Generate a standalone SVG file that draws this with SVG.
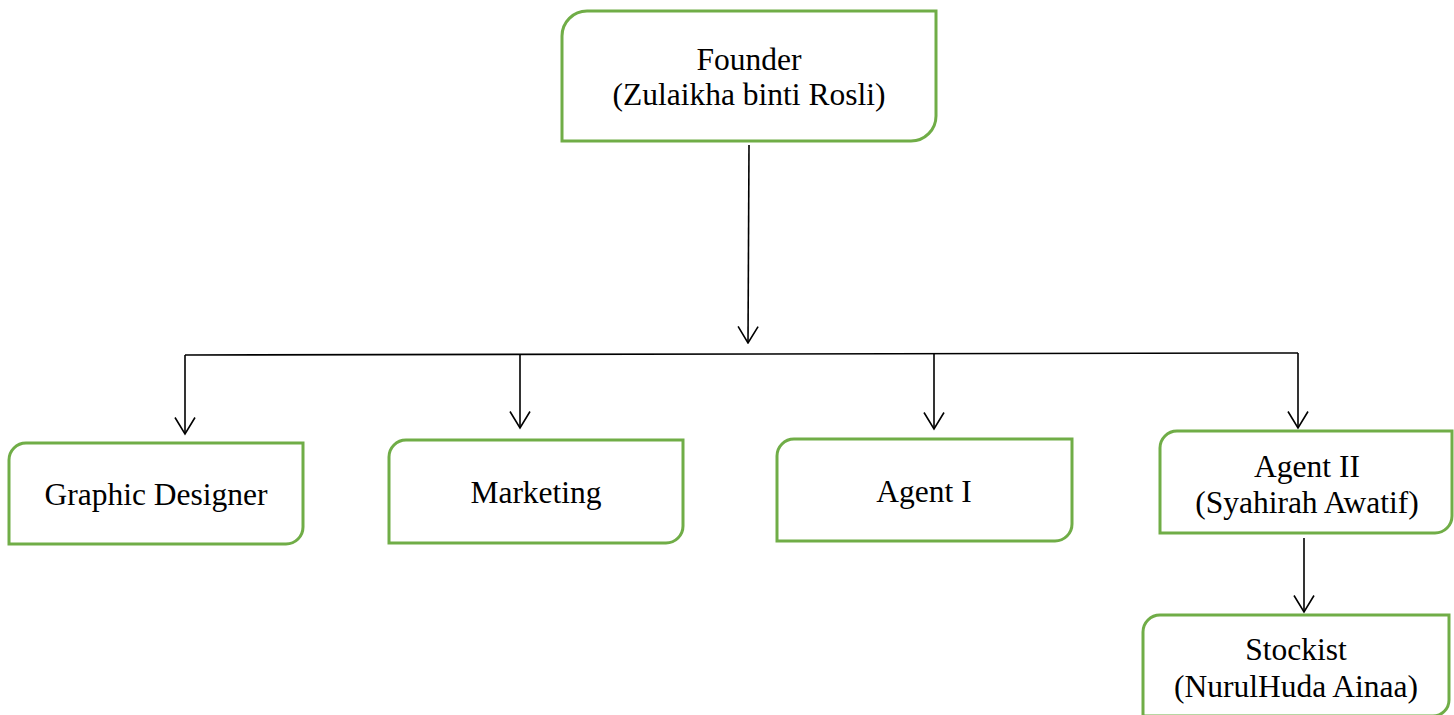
<svg xmlns="http://www.w3.org/2000/svg" width="1454" height="715" viewBox="0 0 1454 715">
<style>
.box{fill:#fff;stroke:#70AD47;stroke-width:3}
.lbl{font-family:"Liberation Serif","Times New Roman",serif;font-size:31.5px;fill:#000;text-anchor:middle}
.con{fill:none;stroke:#000;stroke-width:1.6}
</style>
<defs>
<marker id="arr" markerUnits="userSpaceOnUse" viewBox="0 0 19 22" refX="17.5" refY="11" markerWidth="19" markerHeight="22" orient="auto">
<path d="M1,1 L17.5,11 L1,21" fill="none" stroke="#000" stroke-width="1.6"/>
</marker>
</defs>
<rect width="1454" height="715" fill="#fff"/>
<g id="connectors">
<line class="con" x1="749" y1="145" x2="748" y2="343" marker-end="url(#arr)"/>
<line class="con" x1="185" y1="355" x2="1298" y2="353"/>
<line class="con" x1="185" y1="355" x2="185" y2="434" marker-end="url(#arr)"/>
<line class="con" x1="520" y1="354" x2="520" y2="428" marker-end="url(#arr)"/>
<line class="con" x1="934" y1="354" x2="934" y2="429" marker-end="url(#arr)"/>
<line class="con" x1="1298" y1="353" x2="1298" y2="428" marker-end="url(#arr)"/>
<line class="con" x1="1304" y1="538" x2="1304" y2="612" marker-end="url(#arr)"/>
</g>
<g id="founder">
<path class="box" d="M587,11 H936 V116 A25,25 0 0 1 911,141 H562 V36 A25,25 0 0 1 587,11 Z"/>
<text class="lbl" x="749" y="70">Founder</text>
<text class="lbl" x="749" y="105">(Zulaikha binti Rosli)</text>
</g>
<g id="graphic-designer">
<path class="box" d="M26,443 H303 V527 A17,17 0 0 1 286,544 H9 V460 A17,17 0 0 1 26,443 Z"/>
<text class="lbl" x="156" y="505">Graphic Designer</text>
</g>
<g id="marketing">
<path class="box" d="M406,440 H683 V526 A17,17 0 0 1 666,543 H389 V457 A17,17 0 0 1 406,440 Z"/>
<text class="lbl" x="536" y="503">Marketing</text>
</g>
<g id="agent-1">
<path class="box" d="M794,439 H1072 V524 A17,17 0 0 1 1055,541 H777 V456 A17,17 0 0 1 794,439 Z"/>
<text class="lbl" x="924" y="502">Agent I</text>
</g>
<g id="agent-2">
<path class="box" d="M1177,431 H1452 V516 A17,17 0 0 1 1435,533 H1160 V448 A17,17 0 0 1 1177,431 Z"/>
<text class="lbl" x="1307" y="477">Agent II</text>
<text class="lbl" x="1307" y="513">(Syahirah Awatif)</text>
</g>
<g id="stockist">
<path class="box" d="M1160,615 H1449 V700 A16,16 0 0 1 1433,716 H1143 V632 A17,17 0 0 1 1160,615 Z"/>
<text class="lbl" x="1296" y="660">Stockist</text>
<text class="lbl" x="1296" y="697">(NurulHuda Ainaa)</text>
</g>
</svg>
